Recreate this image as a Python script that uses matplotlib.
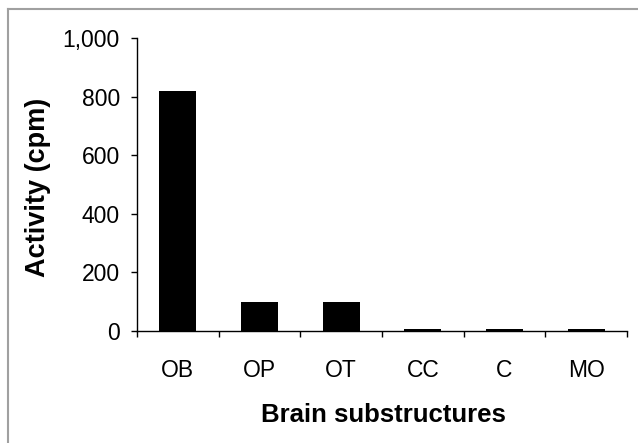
import matplotlib
matplotlib.use('Agg')
from matplotlib import pyplot as plt
from matplotlib.lines import Line2D
import numpy as np

plt.rcParams['font.family'] = ['Liberation Sans', 'DejaVu Sans']

regions = ['OB', 'OP', 'OT', 'CC', 'C', 'MO']
activity = [820, 100, 100, 8, 8, 8]
yticks = [0, 200, 400, 600, 800, 1000]
ytick_labels = ['0', '200', '400', '600', '800', '1,000']

W, H = 638, 443
fig = plt.figure(figsize=(W / 100, H / 100), dpi=100)
ax = fig.add_axes([137 / W, 1 - 331 / H, 490 / W, 293 / H])

x = np.arange(len(regions))
ax.bar(x, activity, width=0.45, color='black')

ax.set_xlim(-0.5, len(regions) - 0.5)
ax.set_ylim(0, 1000)
ax.set_yticks(yticks)
ax.set_yticklabels(ytick_labels)
ax.set_xticks(x)
ax.set_xticklabels(regions)
ax.set_xticks(np.arange(len(regions) + 1) - 0.5, minor=True)

ax.tick_params(axis='y', direction='out', length=6 * 0.72, width=1, pad=8, labelsize=16.5)
ax.tick_params(axis='x', which='major', length=0, pad=20, labelsize=16.5)
ax.tick_params(axis='x', which='minor', direction='out', length=6 * 0.72, width=1)

for s in ['top', 'right']:
    ax.spines[s].set_visible(False)
for s in ['left', 'bottom']:
    ax.spines[s].set_linewidth(1)

fig.text(38 / W, 1 - 187 / H, 'Activity (cpm)', rotation=90, ha='center', va='center',
         fontsize=19.5, fontweight='bold')
fig.text(383 / W, 1 - 415 / H, 'Brain substructures', ha='center', va='center',
         fontsize=18.5, fontweight='bold')

# grey frame around the picture (only top and left visible)
fig.add_artist(Line2D([8 / W, 1], [1 - 9 / H, 1 - 9 / H], color='#a0a0a0', lw=1.5,
                      transform=fig.transFigure))
fig.add_artist(Line2D([8 / W, 8 / W], [0, 1 - 9 / H], color='#a0a0a0', lw=1.5,
                      transform=fig.transFigure))

fig.savefig('out.png', dpi=100)
